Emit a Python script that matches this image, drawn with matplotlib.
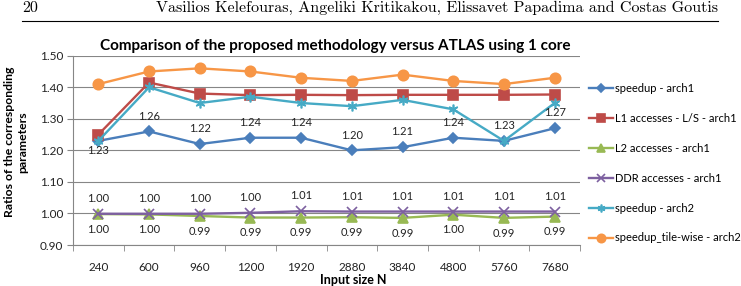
import matplotlib
matplotlib.use("Agg")
import matplotlib.pyplot as plt
from matplotlib.lines import Line2D
import numpy as np

plt.rcParams['font.family'] = ['Lato', 'DejaVu Sans']

# data
sizes = ['240', '600', '960', '1200', '1920', '2880', '3840', '4800', '5760', '7680']
speedup_arch1 = [1.23, 1.26, 1.22, 1.24, 1.24, 1.20, 1.21, 1.24, 1.23, 1.27]
l1_arch1 = [1.25, 1.415, 1.38, 1.375, 1.376, 1.375, 1.376, 1.376, 1.376, 1.377]
l2_arch1 = [0.998, 0.997, 0.992, 0.987, 0.987, 0.988, 0.986, 0.996, 0.986, 0.990]
ddr_arch1 = [0.999, 0.999, 0.999, 1.002, 1.007, 1.006, 1.006, 1.006, 1.006, 1.006]
speedup_arch2 = [1.23, 1.40, 1.35, 1.37, 1.35, 1.34, 1.36, 1.33, 1.23, 1.35]
tile_arch2 = [1.41, 1.45, 1.46, 1.45, 1.43, 1.42, 1.44, 1.42, 1.41, 1.43]

W, H = 741, 286
fig = plt.figure(figsize=(W / 100, H / 100), dpi=100)
ax = fig.add_axes([73 / W, 1 - 245 / H, (580 - 73) / W, (245 - 55.7) / H])

x = np.arange(len(sizes))
series = [
    (speedup_arch1, 'speedup - arch1', '#4A7EBB', 'D', 5),
    (l1_arch1, 'L1 accesses - L/S - arch1', '#BE4B48', 's', 6.5),
    (l2_arch1, 'L2 accesses - arch1', '#98B954', '^', 6.5),
    (ddr_arch1, 'DDR accesses - arch1', '#7D60A0', 'x', 6.5),
    (speedup_arch2, 'speedup - arch2', '#46AAC5', (6, 2, 0), 7),
    (tile_arch2, 'speedup_tile-wise - arch2', '#F79646', 'o', 7.5),
]
for vals, name, col, mk, ms in series:
    ax.plot(x, vals, color=col, lw=1.7, marker=mk, markersize=ms,
            markeredgecolor=col, markerfacecolor=col, markeredgewidth=1.2,
            label=name)

# data labels
lab_kw = dict(textcoords='offset points', ha='center', va='center',
              fontsize=8, color='#222222')
for i, v in enumerate(speedup_arch1):
    off = -7 if i == 0 else 11
    ax.annotate(f'{v:.2f}', (i, v), xytext=(0, off), **lab_kw)
for i, v in enumerate(ddr_arch1):
    ax.annotate(f'{v:.2f}', (i, v), xytext=(0, 11), **lab_kw)
for i, v in enumerate(l2_arch1):
    ax.annotate(f'{v:.2f}', (i, v), xytext=(0, -11), **lab_kw)

ax.set_xlim(-0.5, len(sizes) - 0.5)
ax.set_ylim(0.9, 1.5)
ax.set_yticks(np.arange(0.9, 1.51, 0.1))
ax.yaxis.set_major_formatter(matplotlib.ticker.FormatStrFormatter('%.2f'))
ax.set_xticks(x)
ax.set_xticklabels(sizes)
ax.set_xticks(np.arange(-0.5, len(sizes)), minor=True)
ax.tick_params(axis='x', which='major', length=0, pad=12, labelsize=8.5, labelcolor='#222222')
ax.tick_params(axis='x', which='minor', length=4, color='#868686', direction='out')
ax.tick_params(axis='y', length=4, color='#868686', pad=3, labelsize=8.5, labelcolor='#222222')
ax.grid(axis='y', color='#868686', lw=0.8)
ax.set_axisbelow(True)
for s in ['top', 'right']:
    ax.spines[s].set_visible(False)
for s in ['left', 'bottom']:
    ax.spines[s].set_color('#868686')
    ax.spines[s].set_linewidth(0.8)

fig.text(335 / W, 1 - 46 / H, 'Comparison of the proposed methodology versus ATLAS using 1 core',
         ha='center', va='center', fontsize=11, fontweight='bold')
fig.text(353 / W, 1 - 280 / H, 'Input size N', ha='center', va='center',
         fontsize=9, fontweight='bold')
fig.text(16 / W, 1 - 142 / H, 'Ratios of the corresponding\nparameters', rotation=90,
         ha='center', va='center', fontsize=8.8, fontweight='bold', multialignment='center',
         linespacing=1.25)

fig.legend(loc='upper left', bbox_to_anchor=(589 / W, 1 - 83 / H), frameon=False,
           fontsize=8, handlelength=2.2, handletextpad=0.15, labelspacing=1.7,
           borderpad=0, borderaxespad=0, markerscale=0.8)

# page header
fig.text(22 / W, 1 - 11.5 / H, '20', fontfamily='cmr10', fontsize=11.5, va='baseline')
fig.text(718 / W, 1 - 11.5 / H,
         'Vasilios Kelefouras, Angeliki Kritikakou, Elissavet Papadima and Costas Goutis',
         fontfamily='cmr10', fontsize=11.5, va='baseline', ha='right')
fig.add_artist(Line2D([22 / W, 718 / W], [1 - 20.5 / H] * 2, color='black', lw=0.8))

fig.savefig('out.png', dpi=100)
